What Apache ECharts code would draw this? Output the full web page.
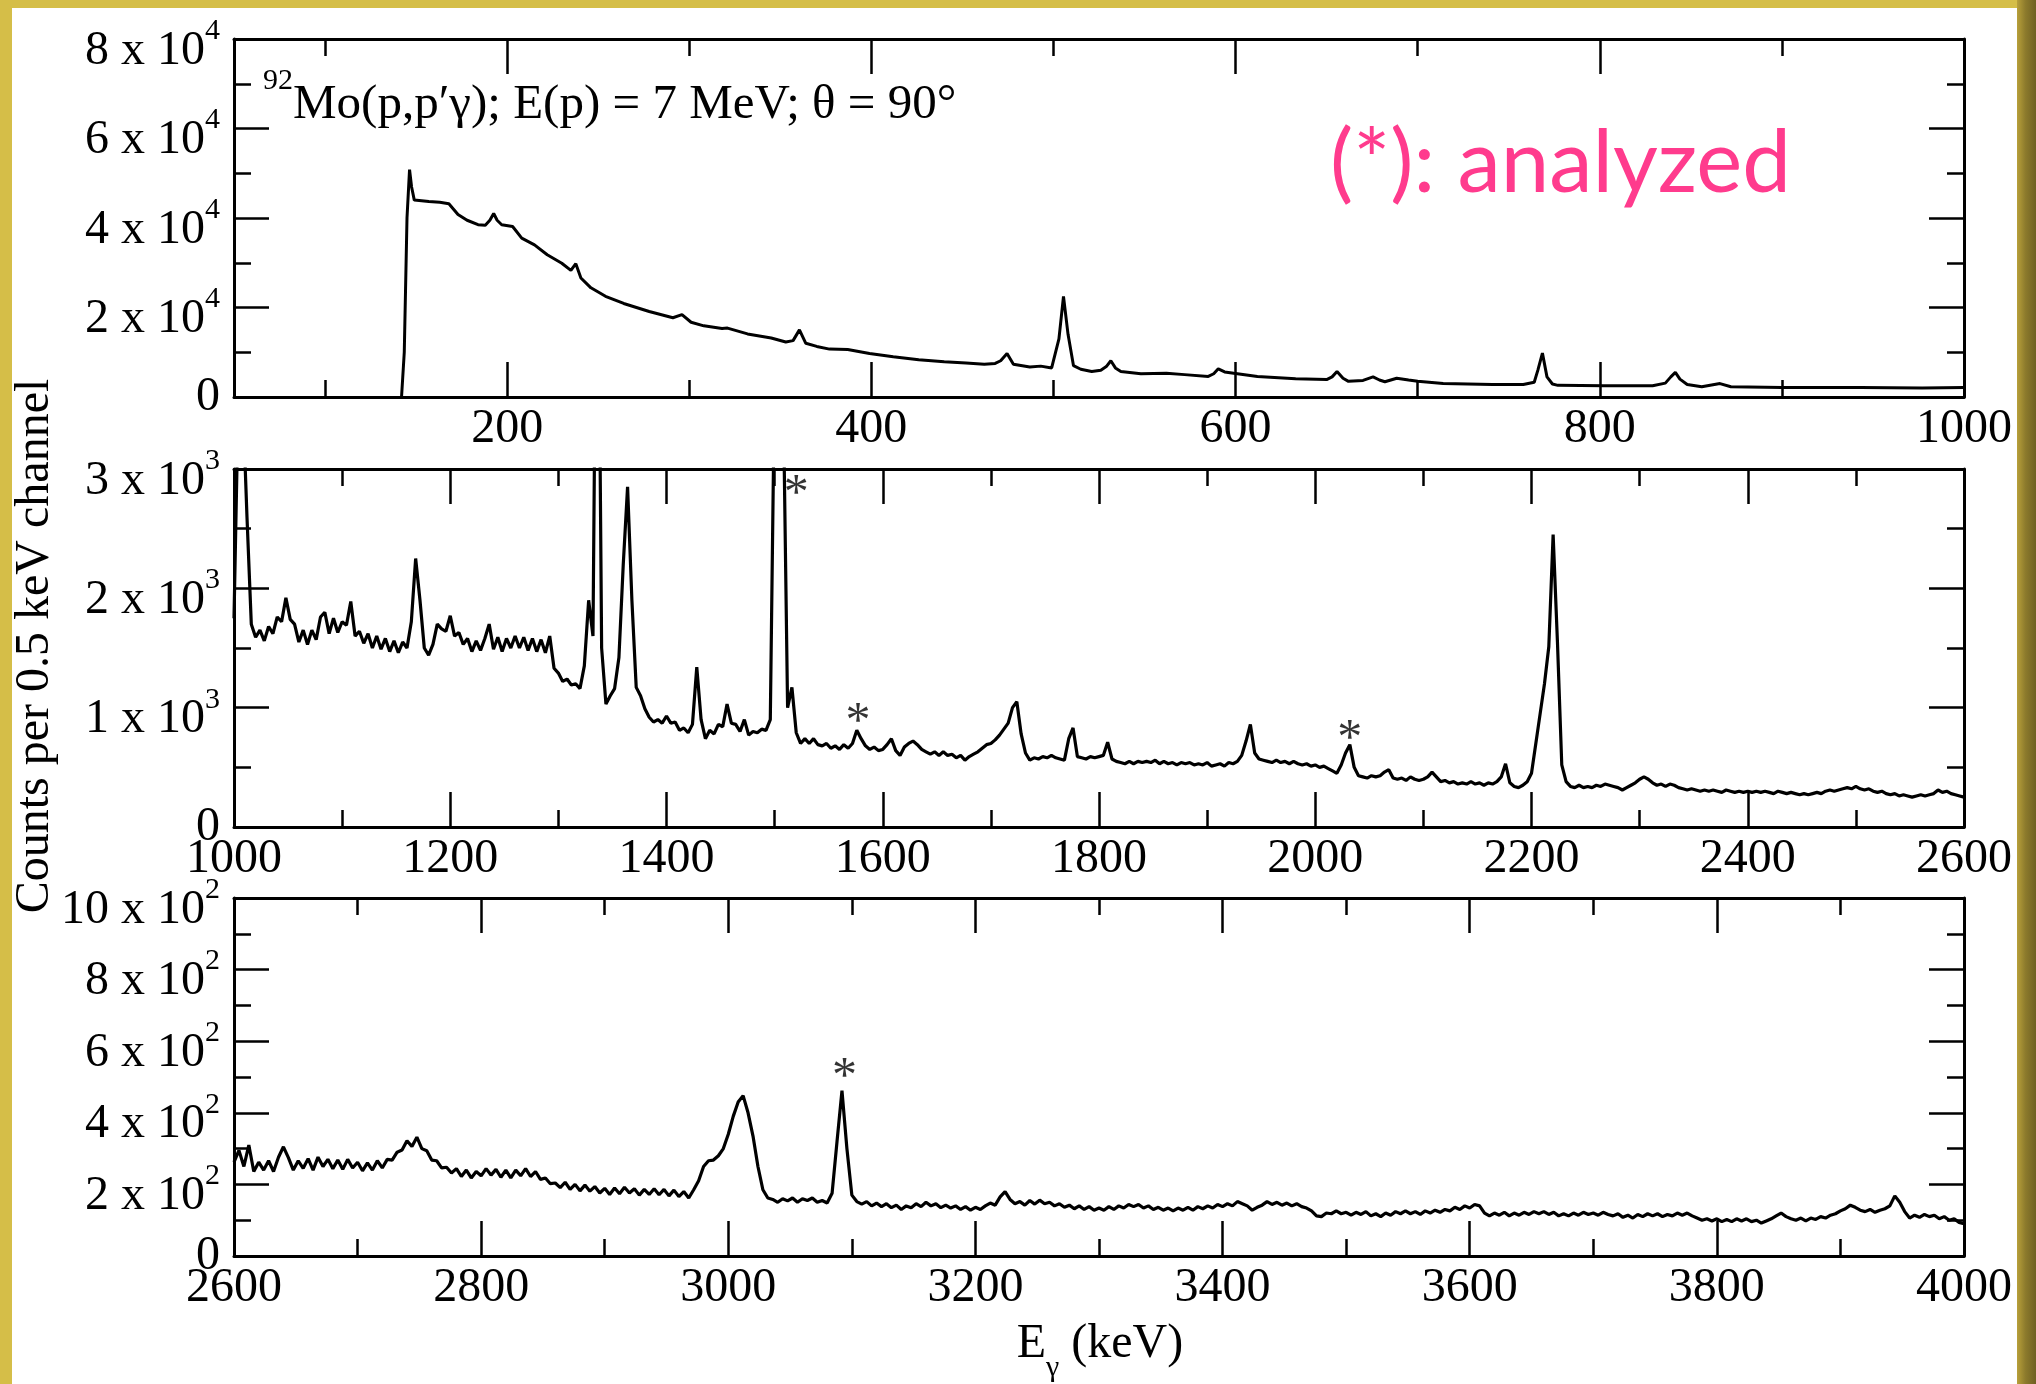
<!DOCTYPE html>
<html>
<head>
<meta charset="utf-8">
<script src="https://cdn.jsdelivr.net/npm/echarts@6/dist/echarts.min.js"></script>
<style>
  html, body { margin: 0; padding: 0; }
  body { width: 2036px; height: 1384px; background: #d5be48; position: relative; overflow: hidden; }
  #bgwhite { position: absolute; left: 12px; top: 8px; width: 2005px; height: 1376px; background: #ffffff; }
  #bgright { position: absolute; left: 2017px; top: 0; width: 19px; height: 1384px;
             background: linear-gradient(90deg, #b8a03a 0%, #8c7a2c 45%, #6f6022 100%); }
  #chart { position: absolute; left: 0; top: 0; width: 2036px; height: 1384px; }
</style>
</head>
<body>
<div id="bgwhite"></div>
<div id="bgright"></div>
<div id="chart"></div>
<script>
// ================= DATA =================
// Top panel: 50 - 1000 keV, [E (keV), counts]
const topSpectrum = [
  [142,0],[143.5,10000],[145,40000],[146.4,50800],[147.5,47000],[149,44000],[157,43700],[163,43500],
  [168,43200],[173,40800],[178,39500],[184,38500],[188,38400],[190.5,39500],[192.6,41000],[194.5,39500],
  [197,38500],[203,38100],[208,35500],[215,34000],[222,31800],[230,29900],[235,28300],[237.7,29800],
  [240.5,26600],[246,24400],[254,22500],[264,20900],[278,19100],[291,17700],[296,18400],[301,16700],
  [308,15900],[318,15300],[321,15400],[332,14100],[345,13200],[353,12300],[357,12600],[360.5,15000],
  [364,12000],[370,11300],[377,10700],[387,10600],[399,9700],[412,9000],[426,8300],[440,7900],
  [452,7600],[462,7300],[468,7500],[471,8100],[474.5,9700],[478,7300],[487,6700],[493,6900],
  [499,6500],[503,13000],[505.5,22500],[508,14000],[511,7000],[515,6200],[521,5700],[526,6000],
  [529,6800],[531.5,8100],[534,6500],[537,5700],[548,5200],[562,5300],[572,5000],[585,4600],
  [588,5200],[590.5,6300],[594,5600],[599,5300],[612,4600],[633,4100],[650,3900],[653,4500],
  [655.7,5700],[659,4200],[662,3500],[670,3700],[675.5,4500],[679,3800],[682,3400],[688.5,4200],
  [695,3800],[700,3500],[714,3000],[741,2800],[758,2800],[764,3300],[766,6000],[768.5,9800],
  [771,4500],[774,2900],[777,2600],[802,2500],[829,2500],[836,3100],[839,4500],[841.5,5500],
  [844,4000],[848,2800],[856,2300],[866,3000],[872,2300],[900,2100],[943,2100],[977,2000],[1000,2100]
];

// Middle panel: 1000 - 2600 keV, one value every 4 keV
const midStart = 1000;
const midStep = 4;
const midCounts = [
  1750,3600,3600,2600,1700,1590,1650,1560,1680,1620,1760,1720,1920,1740,1700,1550,1650,1530,1650,1570,1760,1800,1620,1750,1630,
  1720,1690,1890,1600,1640,1540,1620,1500,1600,1490,1580,1470,1560,1460,1550,1500,1720,2250,1900,1500,1440,1530,1700,1660,1640,
  1770,1600,1630,1530,1580,1470,1560,1480,1580,1700,1490,1590,1470,1580,1500,1600,1500,1590,1480,1580,1470,1570,1460,1600,1330,
  1290,1220,1240,1190,1200,1160,1350,1900,1600,6000,1500,1030,1100,1160,1420,2200,2850,1900,1170,1100,990,920,880,900,870,
  930,870,880,810,830,790,860,1340,900,740,810,780,860,840,1030,870,860,800,900,770,800,790,820,810,900,
  3800,6000,3600,1000,1170,790,700,740,700,740,690,680,700,660,680,650,690,660,700,810,740,680,650,670,640,
  650,690,740,640,600,670,700,720,690,650,630,610,630,600,630,600,610,580,600,560,590,610,630,660,690,
  700,730,770,820,870,1000,1050,780,620,560,580,570,590,580,600,580,570,560,740,830,590,580,570,590,580,
  590,600,710,570,550,540,530,550,530,550,540,550,540,560,530,550,530,540,520,540,530,540,520,530,520,
  540,510,520,530,510,540,530,550,600,720,860,620,570,560,550,540,560,540,550,530,550,530,520,530,510,
  520,500,510,490,470,450,520,620,690,500,430,420,410,430,420,430,460,480,410,400,410,390,420,400,390,
  400,420,460,420,380,390,370,380,360,370,360,380,360,370,350,370,360,380,420,530,370,340,330,350,380,
  450,700,950,1200,1510,2450,1550,520,380,340,330,350,330,340,330,350,340,360,350,340,330,310,330,350,370,
  400,420,400,370,350,360,340,360,350,330,320,310,320,310,300,310,300,310,300,290,310,300,290,300,290,
  300,290,300,290,300,290,280,300,290,280,290,280,270,280,270,280,290,280,300,310,300,310,320,330,320,
  340,320,310,320,300,290,300,280,270,280,260,270,260,250,260,270,260,270,280,310,290,300,280,270,260,250
];

// Bottom panel: 2600 - 4000 keV, one value every 4 keV
const botStart = 2600;
const botStep = 4;
const botCounts = [
  262,295,250,310,236,262,240,266,236,276,305,275,240,266,245,272,240,276,250,270,244,268,242,270,246,
  262,238,260,240,266,246,270,268,290,296,322,306,332,300,294,268,266,246,248,232,244,222,240,218,236,
  224,244,226,242,220,240,218,240,224,244,222,236,214,218,202,204,191,206,186,200,182,198,181,194,176,
  189,172,190,174,192,176,188,170,186,172,188,171,186,168,184,166,180,162,185,210,250,266,268,280,300,
  340,390,430,448,400,335,250,185,162,158,150,160,154,162,150,160,155,162,150,155,148,175,320,462,300,
  170,152,145,152,140,148,138,146,135,142,130,140,135,146,138,150,140,146,135,142,134,140,130,138,128,
  136,130,140,148,142,165,180,158,146,152,142,155,145,156,146,150,140,146,136,142,132,140,130,138,128,
  134,128,138,130,140,134,144,138,144,134,140,130,136,128,134,126,134,128,136,128,138,132,140,134,144,
  138,146,140,152,146,140,128,136,142,152,144,150,142,148,140,146,138,134,126,112,110,120,118,126,118,
  122,114,122,116,124,112,118,110,120,114,124,118,126,118,124,116,126,120,128,122,130,126,136,130,140,
  134,144,140,120,112,120,114,122,112,120,114,122,116,124,118,124,116,122,112,118,112,120,114,122,116,
  120,114,122,116,112,118,108,114,106,116,110,118,112,118,110,116,112,120,114,120,112,106,100,104,98,
  104,96,102,96,104,98,104,96,100,92,98,104,112,120,110,104,100,106,98,106,102,110,106,114,118,
  126,132,142,136,128,124,130,122,128,132,140,168,150,124,106,114,108,116,110,114,104,110,100,104,94,
  90
];

// "analyzed" markers (*) : [E, counts]
const midStars = [[1520, 2850], [1577, 940], [2032, 800]];
const botStars = [[3094, 520]];

// Axis ticks / tick labels
const topXMajor = [200, 400, 600, 800, 1000];
const topXMinor = [100, 300, 500, 700, 900];
const topYLabels = [[0,'0',''],[20000,'2','4'],[40000,'4','4'],[60000,'6','4'],[80000,'8','4']];
const midYLabels = [[0,'0',''],[1000,'1','3'],[2000,'2','3'],[3000,'3','3']];
const botYLabels = [[0,'0',''],[200,'2','2'],[400,'4','2'],[600,'6','2'],[800,'8','2'],[1000,'10','2']];

// Texts
const titleSup = '92';
const titleMain = 'Mo(p,p\u2032\u03b3); E(p) = 7 MeV; \u03b8 = 90\u00b0';
const noteText = '(*): analyzed';
const yTitle = 'Counts per 0.5 keV channel';
const xTitleMain = 'E';
const xTitleSub = '\u03b3';
const xTitleRest = ' (keV)';

// ================= CHART =================
const F = "'Liberation Serif','Times New Roman',serif";
const BLACK = '#000';

const midData = midCounts.map((c, i) => [midStart + i * midStep, c]);
const botData = botCounts.map((c, i) => [botStart + i * botStep, c]);

const G = [
  { left: 234, top: 39, width: 1730, height: 358 },
  { left: 234, top: 469, width: 1730, height: 358 },
  { left: 234, top: 898, width: 1730, height: 358 },
  { left: 234, top: 39, width: 1730, height: 358 }   // overlay: minor ticks of top panel x
];

const axisLine = (show) => ({ show: show, onZero: false, lineStyle: { color: BLACK, width: 3 } });
const tick = (len, extra) => Object.assign({ show: true, inside: true, length: len, lineStyle: { color: BLACK, width: 2.5 } }, extra || {});
const minor = { show: true, splitNumber: 2, length: 17, lineStyle: { color: BLACK, width: 2.5 } };
const plain = (v) => String(v);
const xLabel = (extra) => Object.assign({ show: true, margin: 8, fontFamily: F, fontSize: 48, color: BLACK,
  showMinLabel: true, showMaxLabel: true, formatter: plain }, extra || {});

const yRich = {
  a: { fontFamily: F, fontSize: 48, lineHeight: 72, verticalAlign: 'bottom', color: BLACK },
  s: { fontFamily: F, fontSize: 30, verticalAlign: 'top', padding: [13, 0, 0, 0], color: BLACK },
  z: { fontFamily: F, fontSize: 48, lineHeight: 72, color: BLACK }
};
function yFmt(table) {
  return function (v) {
    for (const [val, m, e] of table) {
      if (Math.abs(v - val) < 1e-6) return e ? '{a|' + m + ' x 10}{s|' + e + '}' : '{z|' + m + '}';
    }
    return '';
  };
}

function xAxisPair(grid, min, max, interval) {
  const base = { type: 'value', gridIndex: grid, min: min, max: max, interval: interval, splitLine: { show: false } };
  return [
    Object.assign({}, base, { position: 'bottom', axisLine: axisLine(true), axisTick: tick(35), minorTick: minor, axisLabel: xLabel() }),
    Object.assign({}, base, { position: 'top', axisLine: axisLine(true), axisTick: tick(35), minorTick: minor, axisLabel: { show: false } })
  ];
}
function yAxisPair(grid, max, interval, table) {
  const base = { type: 'value', gridIndex: grid, min: 0, max: max, interval: interval, splitLine: { show: false } };
  return [
    Object.assign({}, base, { position: 'left', axisLine: axisLine(true), axisTick: tick(35), minorTick: minor,
      axisLabel: { show: true, margin: 14, formatter: yFmt(table), rich: yRich, showMinLabel: true, showMaxLabel: true } }),
    Object.assign({}, base, { position: 'right', axisLine: axisLine(true), axisTick: tick(35), minorTick: minor, axisLabel: { show: false } })
  ];
}

const xAxes = [
  { type: 'value', gridIndex: 0, position: 'bottom', min: 50, max: 1000, splitLine: { show: false },
    axisLine: axisLine(true), axisTick: tick(35, { customValues: topXMajor }),
    axisLabel: xLabel({ customValues: topXMajor }) },
  { type: 'value', gridIndex: 0, position: 'top', min: 50, max: 1000, splitLine: { show: false },
    axisLine: axisLine(true), axisTick: tick(35, { customValues: topXMajor }), axisLabel: { show: false } },
  ...xAxisPair(1, 1000, 2600, 200),
  ...xAxisPair(2, 2600, 4000, 200),
  { type: 'value', gridIndex: 3, position: 'bottom', min: 50, max: 1000, splitLine: { show: false },
    axisLine: { show: false }, axisTick: tick(17, { customValues: topXMinor }), axisLabel: { show: false } },
  { type: 'value', gridIndex: 3, position: 'top', min: 50, max: 1000, splitLine: { show: false },
    axisLine: { show: false }, axisTick: tick(17, { customValues: topXMinor }), axisLabel: { show: false } }
];
const yAxes = [
  ...yAxisPair(0, 80000, 20000, topYLabels),
  ...yAxisPair(1, 3000, 1000, midYLabels),
  ...yAxisPair(2, 1000, 200, botYLabels),
  { type: 'value', gridIndex: 3, min: 0, max: 1, show: false }
];

const topLine = { color: BLACK, width: 3 };
const noisyLine = { color: BLACK, width: 3.2 };
const starLabel = { show: true, position: 'inside', formatter: '*', fontFamily: F, fontSize: 50, color: BLACK, offset: [0, 8] };

const option = {
  animation: false,
  backgroundColor: 'transparent',
  textStyle: { fontFamily: F },
  grid: G.map(g => Object.assign({ containLabel: false, outerBoundsMode: 'none' }, g)),
  xAxis: xAxes,
  yAxis: yAxes,
  series: [
    { type: 'line', xAxisIndex: 0, yAxisIndex: 0, data: topSpectrum, showSymbol: false, symbol: 'none',
      lineStyle: topLine, silent: true, clip: true },
    { type: 'line', xAxisIndex: 2, yAxisIndex: 2, data: midData, showSymbol: false, symbol: 'none',
      lineStyle: noisyLine, silent: true, clip: true },
    { type: 'line', xAxisIndex: 4, yAxisIndex: 4, data: botData, showSymbol: false, symbol: 'none',
      lineStyle: noisyLine, silent: true, clip: true },
    { type: 'scatter', xAxisIndex: 2, yAxisIndex: 2, data: midStars, symbolSize: 1,
      itemStyle: { color: 'rgba(0,0,0,0)' }, label: starLabel, silent: true },
    { type: 'scatter', xAxisIndex: 4, yAxisIndex: 4, data: botStars, symbolSize: 1,
      itemStyle: { color: 'rgba(0,0,0,0)' }, label: starLabel, silent: true }
  ],
  graphic: [
    { type: 'text', x: 263, y: 66, silent: true,
      style: { text: '{s|' + titleSup + '}{a|' + titleMain + '}', verticalAlign: 'top', align: 'left',
        rich: {
          s: { fontFamily: F, fontSize: 30, verticalAlign: 'top', fill: BLACK, color: BLACK },
          a: { fontFamily: F, fontSize: 49, lineHeight: 64, verticalAlign: 'bottom', fill: BLACK, color: BLACK }
        } } },
    { type: 'text', x: 1330, y: 164, silent: true,
      style: { text: noteText, fontFamily: 'Lato', fontSize: 87, fill: '#ff3b8d', align: 'left', verticalAlign: 'middle' } },
    { type: 'text', x: 35, y: 646, rotation: Math.PI / 2, silent: true,
      style: { text: yTitle, fontFamily: F, fontSize: 48, fill: BLACK, align: 'center', verticalAlign: 'middle' } },
    { type: 'text', x: 1100, y: 1320, silent: true,
      style: { text: '{a|' + xTitleMain + '}{b|' + xTitleSub + '}{a|' + xTitleRest + '}', align: 'center', verticalAlign: 'top',
        rich: {
          a: { fontFamily: F, fontSize: 48, lineHeight: 63, verticalAlign: 'top', fill: BLACK, color: BLACK },
          b: { fontFamily: F, fontSize: 30, verticalAlign: 'bottom', fill: BLACK, color: BLACK }
        } } }
  ]
};

const chart = echarts.init(document.getElementById('chart'), null, { renderer: 'canvas', width: 2036, height: 1384 });
chart.setOption(option);
</script>
</body>
</html>
